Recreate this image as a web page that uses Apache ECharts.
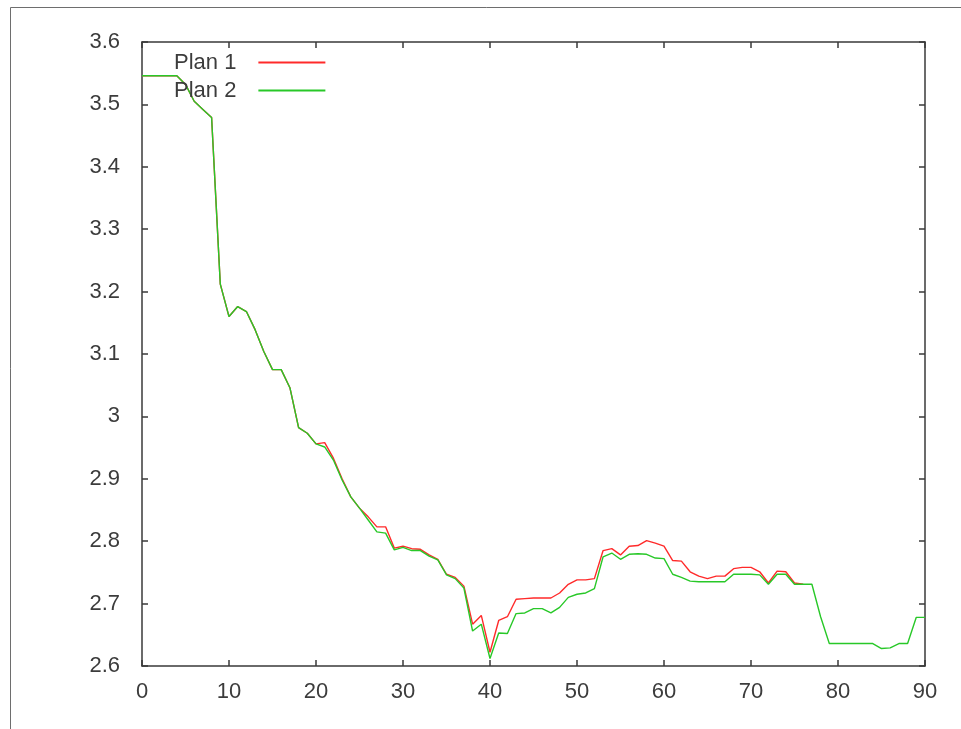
<!DOCTYPE html>
<html>
<head>
<meta charset="utf-8">
<script src="https://cdn.jsdelivr.net/npm/echarts@6/dist/echarts.min.js"></script>
<style>
  html, body { margin: 0; padding: 0; background: #fff; }
  #main { width: 961px; height: 729px; }
</style>
</head>
<body>
<div id="main"></div>
<script>
var seriesNames = ['Plan 1', 'Plan 2'];

// x positions 0..90, one value per step
var plan1 = [3.546, 3.546, 3.546, 3.546, 3.546, 3.532, 3.505, 3.492, 3.479, 3.212,
    3.160, 3.176, 3.168, 3.139, 3.104, 3.075, 3.075, 3.046, 2.982, 2.973,
    2.956, 2.958, 2.933, 2.900, 2.871, 2.853, 2.839, 2.823, 2.823, 2.789,
    2.792, 2.788, 2.787, 2.778, 2.771, 2.747, 2.742, 2.728, 2.667, 2.681,
    2.622, 2.673, 2.679, 2.707, 2.708, 2.709, 2.709, 2.709, 2.717, 2.731,
    2.738, 2.738, 2.740, 2.785, 2.788, 2.778, 2.792, 2.793, 2.801, 2.797,
    2.792, 2.769, 2.768, 2.751, 2.744, 2.740, 2.744, 2.744, 2.756, 2.758,
    2.758, 2.751, 2.733, 2.752, 2.751, 2.733, 2.731];

var plan2 = [3.546, 3.546, 3.546, 3.546, 3.546, 3.532, 3.505, 3.492, 3.479, 3.212,
    3.160, 3.176, 3.168, 3.139, 3.104, 3.075, 3.075, 3.046, 2.982, 2.973,
    2.956, 2.951, 2.930, 2.898, 2.871, 2.853, 2.834, 2.815, 2.813, 2.786,
    2.790, 2.785, 2.785, 2.776, 2.770, 2.746, 2.740, 2.725, 2.656, 2.667,
    2.612, 2.653, 2.652, 2.684, 2.685, 2.692, 2.692, 2.685, 2.694, 2.710,
    2.715, 2.717, 2.724, 2.775, 2.781, 2.771, 2.779, 2.780, 2.779, 2.773,
    2.772, 2.747, 2.742, 2.736, 2.735, 2.735, 2.735, 2.735, 2.747, 2.747,
    2.747, 2.746, 2.731, 2.747, 2.747, 2.731, 2.731, 2.731, 2.679, 2.636,
    2.636, 2.636, 2.636, 2.636, 2.636, 2.628, 2.629, 2.636, 2.636, 2.678,
    2.678];

var xTicks = [0, 10, 20, 30, 40, 50, 60, 70, 80, 90];
var yTicks = [2.6, 2.7, 2.8, 2.9, 3.0, 3.1, 3.2, 3.3, 3.4, 3.5, 3.6];

function pairs(arr) {
    return arr.map(function (v, i) { return [i, v]; });
}

var myChart = echarts.init(document.getElementById('main'));

var axisColor = '#3a3a3a';
var labelFont = {
    color: '#3c3c3c',
    fontSize: 22,
    fontFamily: 'Liberation Sans, Arial, sans-serif'
};

var baseX = {
    type: 'value',
    min: xTicks[0],
    max: xTicks[xTicks.length - 1],
    interval: 10,
    splitLine: {show: false},
    axisLine: {show: true, onZero: false, lineStyle: {color: axisColor, width: 1.5}},
    axisTick: {show: true, inside: true, length: 6, lineStyle: {color: axisColor, width: 1.5}}
};
var baseY = {
    type: 'value',
    min: yTicks[0],
    max: yTicks[yTicks.length - 1],
    interval: 0.1,
    splitLine: {show: false},
    axisLine: {show: true, onZero: false, lineStyle: {color: axisColor, width: 1.5}},
    axisTick: {show: true, inside: true, length: 6, lineStyle: {color: axisColor, width: 1.5}}
};

option = {
    backgroundColor: '#fff',
    animation: false,
    grid: {
        left: 142,
        right: 36,
        top: 42,
        bottom: 63
    },
    graphic: [{
        type: 'rect',
        left: 8,
        top: 5,
        shape: {width: 1000, height: 800},
        style: {fill: 'none', stroke: '#6e6e6e', lineWidth: 1},
        silent: true
    }],
    legend: {
        orient: 'vertical',
        left: 174,
        top: 51,
        padding: 0,
        align: 'right',
        icon: 'rect',
        itemWidth: 67,
        itemHeight: 2,
        itemGap: 5,
        data: seriesNames,
        textStyle: {
            color: '#3c3c3c',
            fontSize: 22,
            lineHeight: 23,
            fontFamily: 'Liberation Sans, Arial, sans-serif',
            padding: [0, 17, 0, 0]
        }
    },
    xAxis: [
        Object.assign({}, baseX, {
            position: 'bottom',
            axisLabel: Object.assign({margin: 15}, labelFont)
        }),
        Object.assign({}, baseX, {
            position: 'top',
            axisLabel: {show: false}
        })
    ],
    yAxis: [
        Object.assign({}, baseY, {
            position: 'left',
            axisLabel: Object.assign({margin: 22}, labelFont)
        }),
        Object.assign({}, baseY, {
            position: 'right',
            axisLabel: {show: false}
        })
    ],
    series: [
        {
            name: seriesNames[0],
            type: 'line',
            xAxisIndex: 0,
            yAxisIndex: 0,
            data: pairs(plan1),
            showSymbol: false,
            color: '#ff2a2a',
            lineStyle: {width: 1.4, color: '#ff2a2a'}
        },
        {
            name: seriesNames[1],
            type: 'line',
            xAxisIndex: 0,
            yAxisIndex: 0,
            data: pairs(plan2),
            showSymbol: false,
            color: '#28c828',
            lineStyle: {width: 1.4, color: '#28c828'}
        }
    ]
};

myChart.setOption(option);
</script>
</body>
</html>
